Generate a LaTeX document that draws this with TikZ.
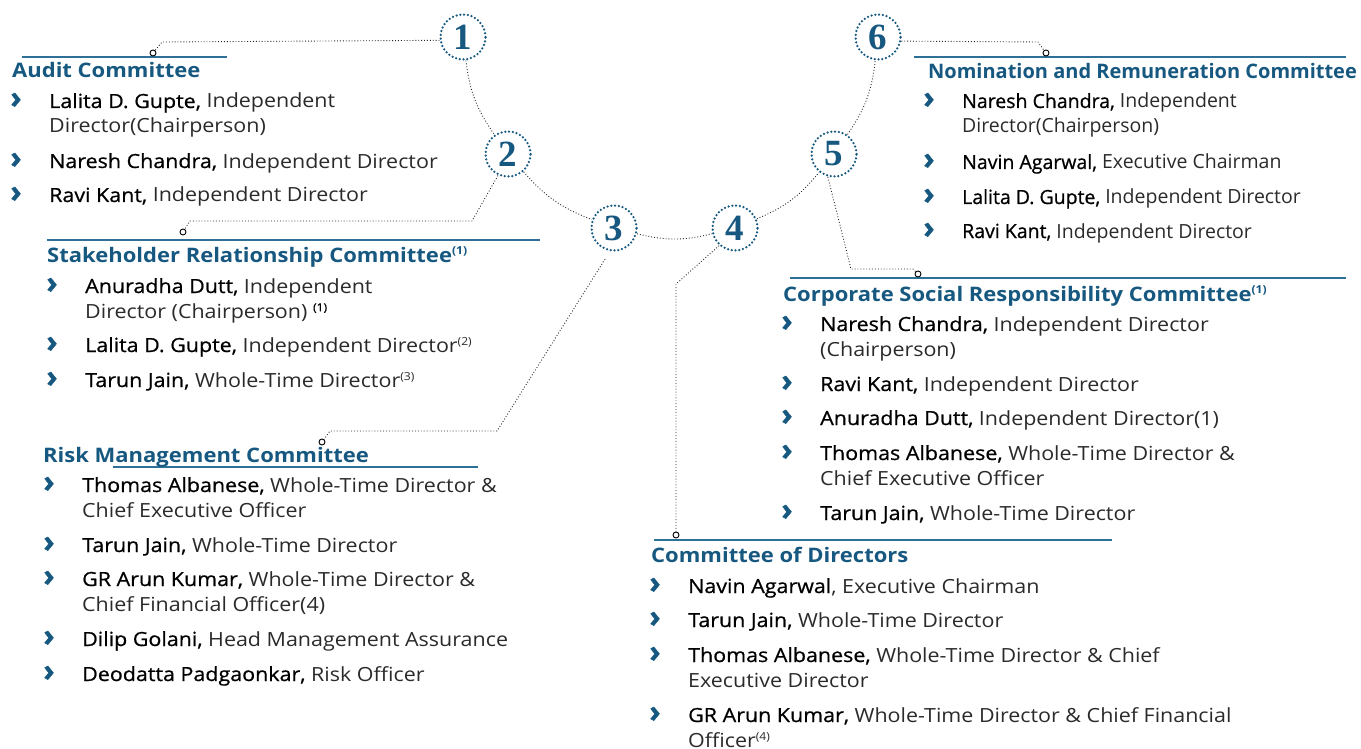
\documentclass[tikz,border=0pt]{standalone}
\usepackage{fontspec}
\setmainfont{Open Sans}[FakeStretch=1.1]
\setsansfont{Open Sans}[FakeStretch=1.1]
\newfontfamily\numfont{Liberation Serif}
\newfontfamily\narrowfont{Open Sans}
\newfontfamily\namefont{Open Sans}[FakeBold=0.7, FakeStretch=1.1]
\newfontfamily\namefontn{Open Sans}[FakeBold=0.7]
\newfontfamily\bulfont{Open Sans}[FakeBold=1.5]
\definecolor{cblue}{HTML}{165880}
\definecolor{rblue}{HTML}{2F7099}
\definecolor{tgray}{HTML}{2A2A2A}
\newcommand\nm[1]{{\namefont\color{black}#1}}
\newcommand\nmn[1]{{\namefontn\color{black}#1}}
\newcommand\sups[1]{\raisebox{0.65ex}{\fontsize{11}{11}\selectfont #1}}
% single-line entry
\newcommand\entry[4]{%
  \node[bul] (#1b) at (#2-33,#3) {›};
  \node[txt] (#1) at (#2,#3) {#4};}
% two-line entry (y = baseline of the first line)
\newcommand\entryt[4]{%
  \node[bul] (#1b) at (#2-33,#3) {›};
  \node[txt] (#1) at (#2,#3+25) {#4};}
\begin{document}
\begin{tikzpicture}[x=1pt,y=-1pt,
  num/.style={circle, draw=cblue, dash pattern=on 0pt off 3.8pt, line cap=round,
    line width=2.5pt, minimum size=45pt, inner sep=0pt, text=cblue,
    font=\numfont\bfseries\fontsize{37}{37}\selectfont},
  conn/.style={draw=black!85, line width=0.9pt, dash pattern=on 0.9pt off 2pt},
  dotc/.style={circle, draw=black, line width=0.9pt, fill=white, minimum size=6pt, inner sep=0pt},
  rule/.style={draw=rblue, line width=1.3pt},
  hd/.style={anchor=base west, inner sep=0pt, text=cblue,
    font=\bfseries\fontsize{20}{24}\selectfont},
  txt/.style={anchor=base west, inner sep=0pt, align=left, text=tgray,
    font=\fontsize{19.5}{25}\selectfont},
  bul/.style={anchor=base, inner sep=0pt, text=cblue,
    font=\bulfont\bfseries\fontsize{30}{30}\selectfont}]
\useasboundingbox (0,0) rectangle (1361,749);

% numbered circles
\node[num] (c1) at (463,37) {1};
\node[num] (c2) at (508,154) {2};
\node[num] (c3) at (614,228) {3};
\node[num] (c4) at (735,228) {4};
\node[num] (c5) at (834,154) {5};
\node[num] (c6) at (878,37) {6};

\draw[conn] (c1) to[bend right=14] (c2);
\draw[conn] (c2) to[bend right=14] (c3);
\draw[conn] (c3) to[bend right=14] (c4);
\draw[conn] (c4) to[bend right=14] (c5);
\draw[conn] (c5) to[bend right=14] (c6);

% rules
\coordinate (r1a) at (22,57);   \coordinate (r1b) at (227,57);
\coordinate (r2a) at (47,240);  \coordinate (r2b) at (540,240);
\coordinate (r3a) at (113,467); \coordinate (r3b) at (478,467);
\coordinate (r4a) at (654,540); \coordinate (r4b) at (1112,540);
\coordinate (r5a) at (790,278); \coordinate (r5b) at (1346,278);
\coordinate (r6a) at (914,57);  \coordinate (r6b) at (1346,57);
\draw[rule] (r1a) -- (r1b);
\draw[rule] (r2a) -- (r2b);
\draw[rule] (r3a) -- (r3b);
\draw[rule] (r4a) -- (r4b);
\draw[rule] (r5a) -- (r5b);
\draw[rule] (r6a) -- (r6b);

% small circles
\node[dotc] (d1) at (153,53) {};
\node[dotc] (d2) at (183,232) {};
\node[dotc] (d3) at (322,442) {};
\node[dotc] (d4) at (676,535) {};
\node[dotc] (d5) at (918,274) {};
\node[dotc] (d6) at (1046,53) {};

% connectors to headings
\coordinate (k1) at (162,42);
\draw[conn] (c1.188) -- (k1) -- (d1);
\coordinate (k2b) at (472,221); \coordinate (k2a) at (190,221);
\draw[conn] (c2.245) -- (k2b) -- (k2a) -- (d2);
\coordinate (k3b) at (497,431); \coordinate (k3a) at (330,431);
\draw[conn, shorten <=9pt] (c3.260) -- (k3b) -- (k3a) -- (d3);
\coordinate (k4) at (676,284);
\draw[conn] (c4.228) -- (k4) -- (d4);
\coordinate (k5a) at (851,269); \coordinate (k5b) at (913,269);
\draw[conn] (c5.255) -- (k5a) -- (k5b) -- (d5);
\coordinate (k6) at (1038,42);
\draw[conn] (c6.-10) -- (k6) -- (d6);

% Audit Committee
\node[hd] (h1) at (12,78) {Audit Committee};
\entryt{a1}{49}{108}{\nm{Lalita D. Gupte,} Independent\\Director(Chairperson)}
\entry{a2}{49}{168}{\nm{Naresh Chandra,} Independent Director}
\entry{a3}{49}{202}{\nm{Ravi Kant,} Independent Director}

% Stakeholder Relationship Committee
\node[hd] (h2) at (47,262) {Stakeholder Relationship Committee\sups{(1)}};
\entryt{s1}{85}{293}{\nm{Anuradha Dutt,} Independent\\Director (Chairperson) \sups{\namefont\color{black}(1)}}
\entry{s2}{85}{352}{\nm{Lalita D. Gupte,} Independent Director\sups{(2)}}
\entry{s3}{85}{387}{\nm{Tarun Jain,} Whole-Time Director\sups{(3)}}

% Risk Management Committee
\node[hd] (h3) at (43,462) {Risk Management Committee};
\entryt{m1}{82}{492}{\nm{Thomas Albanese,} Whole-Time Director \&\\Chief Executive Officer}
\entry{m2}{82}{552}{\nm{Tarun Jain,} Whole-Time Director}
\entryt{m3}{82}{586}{\nm{GR Arun Kumar,} Whole-Time Director \&\\Chief Financial Officer(4)}
\entry{m4}{82}{646}{\nm{Dilip Golani,} Head Management Assurance}
\entry{m5}{82}{681}{\nm{Deodatta Padgaonkar,} Risk Officer}

% Nomination and Remuneration Committee
\node[hd, font=\narrowfont\bfseries\fontsize{20}{24}\selectfont] (h6) at (928,79) {Nomination and Remuneration Committee};
\begin{scope}[txt/.append style={font=\narrowfont\fontsize{19.5}{25}\selectfont}]
\entryt{n1}{962}{108}{\nmn{Naresh Chandra,} Independent\\Director(Chairperson)}
\entry{n2}{962}{169}{\nmn{Navin Agarwal,} Executive Chairman}
\entry{n3}{962}{204}{\nmn{Lalita D. Gupte,} Independent Director}
\entry{n4}{962}{238}{\nmn{Ravi Kant,} Independent Director}
\end{scope}

% Corporate Social Responsibility Committee
\node[hd] (h5) at (783,301) {Corporate Social Responsibility Committee\sups{(1)}};
\entryt{p1}{820}{331}{\nm{Naresh Chandra,} Independent Director\\(Chairperson)}
\entry{p2}{820}{391}{\nm{Ravi Kant,} Independent Director}
\entry{p3}{820}{425}{\nm{Anuradha Dutt,} Independent Director(1)}
\entryt{p4}{820}{460}{\nm{Thomas Albanese,} Whole-Time Director \&\\Chief Executive Officer}
\entry{p5}{820}{520}{\nm{Tarun Jain,} Whole-Time Director}

% Committee of Directors
\node[hd] (h4) at (651,562) {Committee of Directors};
\entry{o1}{688}{593}{\nm{Navin Agarwal}, Executive Chairman}
\entry{o2}{688}{627}{\nm{Tarun Jain,} Whole-Time Director}
\entryt{o3}{688}{662}{\nm{Thomas Albanese,} Whole-Time Director \& Chief\\Executive Director}
\entryt{o4}{688}{722}{\nm{GR Arun Kumar,} Whole-Time Director \& Chief Financial\\Officer\sups{(4)}}
\end{tikzpicture}
\end{document}
